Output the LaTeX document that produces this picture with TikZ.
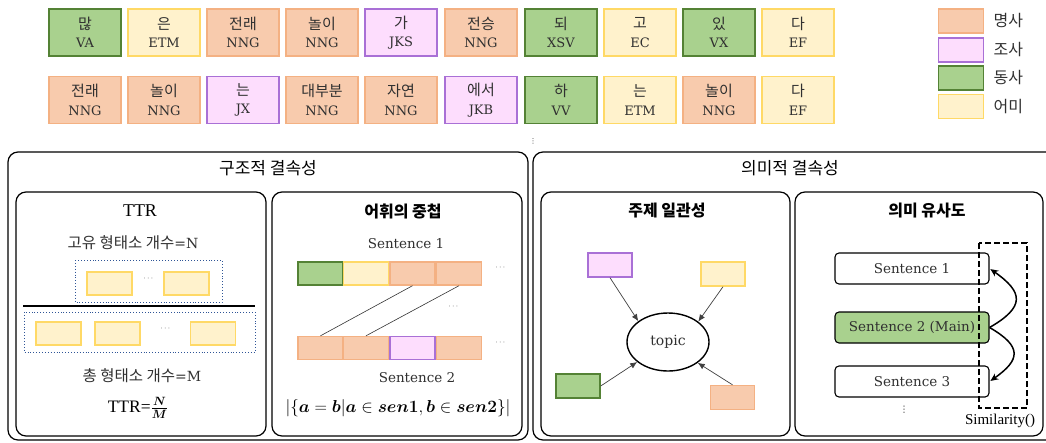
\documentclass[tikz,border=0pt]{standalone}
\usepackage{amsmath,bm}
\usepackage{fontspec}
\setmainfont{DejaVu Serif}
\newfontfamily\kr{Noto Sans CJK KR}
\newfontfamily\tms{Liberation Serif}
\newfontfamily\djs{DejaVu Sans}
\newcommand\kw[1]{{\kr\fontsize{15}{18.5}\selectfont #1}}
\usetikzlibrary{shapes.geometric,arrows.meta}
\definecolor{nounF}{HTML}{F8CBAD}\definecolor{nounD}{HTML}{F4B183}
\definecolor{josaF}{HTML}{FDDDFD}\definecolor{josaD}{HTML}{A970D6}
\definecolor{verbF}{HTML}{A9D18E}\definecolor{verbD}{HTML}{548235}
\definecolor{endF}{HTML}{FFF2CC}\definecolor{endD}{HTML}{FFD966}
\definecolor{dotblue}{HTML}{2F5597}
\definecolor{txt}{HTML}{303030}
\tikzset{
  posbox/.style={draw, line width=1.4pt, minimum width=72pt, minimum height=47pt, inner sep=0pt,
    align=center, text=txt, font=\fontsize{13}{18.5}\selectfont},
  noun/.style={fill=nounF, draw=nounD},
  josa/.style={fill=josaF, draw=josaD},
  verb/.style={fill=verbF, draw=verbD},
  ending/.style={fill=endF, draw=endD},
  legbox/.style={draw, line width=1.4pt, minimum width=45pt, minimum height=24pt, inner sep=0pt},
  legtext/.style={anchor=west, text=txt, font=\kr\fontsize{16}{16}\selectfont},
  cell/.style={draw, line width=1.4pt, minimum width=45pt, minimum height=23pt, inner sep=0pt},
  smallbox/.style={draw, line width=1.4pt, minimum width=44pt, minimum height=24pt, inner sep=0pt},
  panel/.style={draw, line width=1.2pt, rounded corners=10pt},
  bigtitle/.style={font=\kr\fontsize{17}{17}\selectfont},
  subtitle/.style={font=\kr\bfseries\fontsize{16}{16}\selectfont},
  dotsnode/.style={text=txt, font=\fontsize{8}{8}\selectfont, inner sep=0pt},
  vdotsnode/.style={text=txt, font=\djs\fontsize{9}{9}\selectfont, inner sep=0pt},
  sentbox/.style={draw, line width=1.1pt, rounded corners=4pt, minimum width=154pt, minimum height=31pt,
    inner sep=0pt, text=txt, font=\fontsize{13.5}{13.5}\selectfont},
  plain/.style={text=txt, font=\fontsize{13.5}{13.5}\selectfont},
  topicarrow/.style={draw=black!75, line width=0.7pt, -{Latex[length=7pt,width=6pt]}},
  simarrow/.style={line width=1.5pt, -{Stealth[length=8pt,width=7pt]}, shorten >=1pt},
  dottedframe/.style={draw=dotblue, dotted, line width=0.9pt},
}
\begin{document}
\begin{tikzpicture}[x=1pt,y=-1pt]
\useasboundingbox (0,0) rectangle (1046,442);
\clip (0,0) rectangle (1046,442);
% ---------- row 1 ----------
\node[posbox,verb]   (r1a) at (85,32.5)  {\kw{많}\\VA};
\node[posbox,ending] (r1b) at (164,32.5) {\kw{은}\\ETM};
\node[posbox,noun]   (r1c) at (243,32.5) {\kw{전래}\\NNG};
\node[posbox,noun]   (r1d) at (322,32.5) {\kw{놀이}\\NNG};
\node[posbox,josa]   (r1e) at (401,32.5) {\kw{가}\\JKS};
\node[posbox,noun]   (r1f) at (481,32.5) {\kw{전승}\\NNG};
\node[posbox,verb]   (r1g) at (561,32.5) {\kw{되}\\XSV};
\node[posbox,ending] (r1h) at (640,32.5) {\kw{고}\\EC};
\node[posbox,verb]   (r1i) at (719,32.5) {\kw{있}\\VX};
\node[posbox,ending] (r1j) at (798,32.5) {\kw{다}\\EF};
% ---------- row 2 ----------
\node[posbox,noun]   (r2a) at (85,100)  {\kw{전래}\\NNG};
\node[posbox,noun]   (r2b) at (164,100) {\kw{놀이}\\NNG};
\node[posbox,josa]   (r2c) at (243,100) {\kw{는}\\JX};
\node[posbox,noun]   (r2d) at (322,100) {\kw{대부분}\\NNG};
\node[posbox,noun]   (r2e) at (401,100) {\kw{자연}\\NNG};
\node[posbox,josa]   (r2f) at (481,100) {\kw{에서}\\JKB};
\node[posbox,verb]   (r2g) at (561,100) {\kw{하}\\VV};
\node[posbox,ending] (r2h) at (640,100) {\kw{는}\\ETM};
\node[posbox,noun]   (r2i) at (719,100) {\kw{놀이}\\NNG};
\node[posbox,ending] (r2j) at (798,100) {\kw{다}\\EF};
% ---------- legend ----------
\node[legbox,noun]   (l1) at (961,21)  {};
\node[legbox,josa]   (l2) at (961,50)  {};
\node[legbox,verb]   (l3) at (961,78)  {};
\node[legbox,ending] (l4) at (961,106.5) {};
\node[legtext] (lt1) at (990,21)  {명사};
\node[legtext] (lt2) at (990,50)  {조사};
\node[legtext] (lt3) at (990,78)  {동사};
\node[legtext] (lt4) at (990,106.5) {어미};
\node[vdotsnode, font=\djs\fontsize{7}{7}\selectfont] (vd0) at (533,141) {⋮};
% ---------- outer panels ----------
\draw[panel] (8,152) rectangle (528,440);
\draw[panel] (533,152) rectangle (1056,440);
\node[bigtitle] (t1) at (268,168) {구조적 결속성};
\node[bigtitle] (t2) at (790,168) {의미적 결속성};
% ---------- inner panels ----------
\draw[panel] (16,192) rectangle (266,436);
\draw[panel] (272,192) rectangle (522,436);
\draw[panel] (541,192) rectangle (790,436);
\draw[panel] (795,192) rectangle (1043,436);
% ---------- TTR ----------
\node[font=\tms\fontsize{18}{18}\selectfont] (ttrt) at (140,211) {TTR};
\node[plain, font=\fontsize{14}{14}\selectfont] (uniq) at (133,243) {{\kr\fontsize{15.5}{15.5}\selectfont 고유 형태소 개수}=N};
\draw[dottedframe] (75,260) rectangle (222,302);
\node[smallbox,ending, minimum width=45pt, minimum height=23pt] (u1) at (109.5,283.5) {};
\node[smallbox,ending, minimum width=45pt, minimum height=23pt] (u2) at (186.5,283.5) {};
\node[dotsnode] (ud) at (149,279) {$\cdots$};
\draw[line width=1.4pt] (23,306) -- (255,306);
\draw[dottedframe] (24,312) rectangle (255,352);
\node[smallbox,ending, minimum width=45pt, minimum height=23pt] (m1) at (58.5,333.5) {};
\node[smallbox,ending, minimum width=45pt, minimum height=23pt] (m2) at (117.5,333.5) {};
\node[smallbox,ending, minimum width=45pt, minimum height=23pt] (m3) at (213,333.5) {};
\node[dotsnode] (md) at (166,329) {$\cdots$};
\node[plain, font=\fontsize{14}{14}\selectfont] (tot) at (142,376) {{\kr\fontsize{15.5}{15.5}\selectfont 총 형태소 개수}=M};
\node[font=\tms\fontsize{17.5}{17.5}\selectfont] (ttrf) at (138,408) {TTR=$\frac{\bm{N}}{\bm{M}}$};
% ---------- lexical overlap ----------
\node[subtitle] (t3) at (403,211) {어휘의 중첩};
\node[plain] (sen1) at (406,244) {Sentence 1};
\node[cell,verb]   (a1) at (320.5,273.5) {};
\node[cell,ending] (a2) at (366,273.5) {};
\node[cell,noun]   (a3) at (412.5,273.5) {};
\node[cell,noun]   (a4) at (459,273.5) {};
\node[dotsnode] (ad) at (501,268) {$\cdots$};
\node[dotsnode] (cd) at (454,307) {$\cdots$};
\node[cell,noun]   (b1) at (320.5,348) {};
\node[cell,noun]   (b2) at (366,348) {};
\node[cell,josa]   (b3) at (412.5,348) {};
\node[cell,noun]   (b4) at (459,348) {};
\node[dotsnode] (bd) at (501,343) {$\cdots$};
\draw[black!80, line width=0.6pt] (a3.south) -- (b1.north);
\draw[black!80, line width=0.6pt] (a4.south) -- (b2.north);
\node[plain] (sen2) at (417,378) {Sentence 2};
\node[font=\fontsize{18}{18}\selectfont] (form) at (398,408)
  {$|\{\bm{a}=\bm{b}|\bm{a}\in\bm{sen1},\bm{b}\in\bm{sen2}\}|$};
% ---------- topic ----------
\node[subtitle] (t4) at (667,211) {주제 일관성};
\node[smallbox,josa]   (tp) at (610,265) {};
\node[smallbox,ending] (ty) at (723,274) {};
\node[smallbox,verb]   (tg) at (578,386) {};
\node[smallbox,noun]   (to) at (732.5,397.5) {};
\node[draw, line width=1.4pt, ellipse, minimum width=82pt, minimum height=58pt, inner sep=0pt,
      text=txt, font=\fontsize{14}{14}\selectfont] (topic) at (668,342) {topic};
\draw[topicarrow] (tp.south) -- (topic.145);
\draw[topicarrow] (ty.south) -- (topic.34);
\draw[topicarrow] (tg.east) -- (topic.213);
\draw[topicarrow] (to.north) -- (topic.325);
% ---------- similarity ----------
\node[subtitle] (t5) at (927,211) {의미 유사도};
\node[sentbox] (s1) at (912,268.5) {Sentence 1};
\node[sentbox, fill=verbF] (s2) at (912,327.5) {Sentence 2 (Main)};
\node[sentbox] (s3) at (912,381.5) {Sentence 3};
\node[vdotsnode] (vd1) at (904,410) {⋮};
\draw[dashed, dash pattern=on 6pt off 3pt, line width=1.3pt] (979,243) rectangle (1027,408);
\node[font=\tms\fontsize{15}{15}\selectfont] (simt) at (1000,421) {Similarity()};
\draw[simarrow] (s2.east) to[out=30, in=-35, looseness=1.8] (s1.east);
\draw[simarrow] (s2.east) to[out=-30, in=35, looseness=1.8] (s3.east);
\end{tikzpicture}
\end{document}
